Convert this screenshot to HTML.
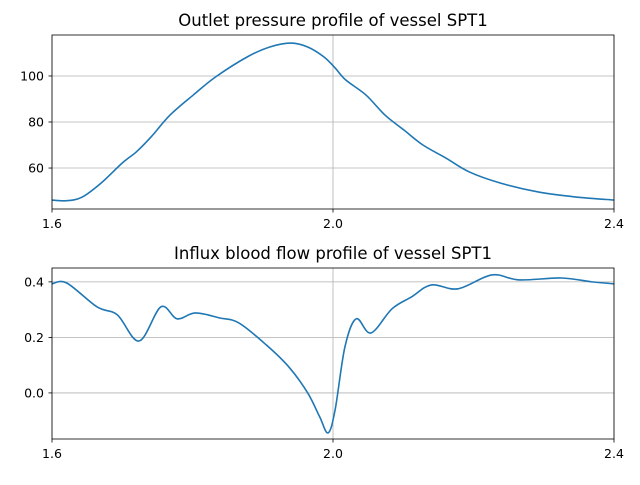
<!DOCTYPE html>
<html><head><meta charset="utf-8"><style>
body{margin:0;background:#fff}
svg text{font-family:"DejaVu Sans","Liberation Sans",sans-serif;fill:#000}
</style></head><body>
<svg id="c" width="640" height="480" xmlns="http://www.w3.org/2000/svg"></svg>
<script>
const topX=[1.6,1.621,1.643,1.670,1.700,1.720,1.741,1.768,1.801,1.833,1.878,1.910,1.940,1.964,1.987,2.003,2.018,2.047,2.074,2.101,2.128,2.161,2.194,2.238,2.292,2.346,2.4];
const topY=[46.1,45.8,47.4,53.5,62.2,67.0,73.5,83.0,91.7,99.6,108.3,112.6,114.3,112.6,108.3,103.5,98.3,91.7,83.0,76.5,70.0,64.3,58.3,53.5,49.6,47.4,46.1];
const botX=[1.6,1.621,1.664,1.693,1.724,1.755,1.778,1.804,1.839,1.866,1.905,1.937,1.964,1.981,1.993,2.003,2.017,2.033,2.054,2.084,2.112,2.140,2.178,2.226,2.265,2.325,2.369,2.4];
const botY=[0.393,0.396,0.310,0.281,0.187,0.310,0.267,0.288,0.270,0.252,0.173,0.094,0.0,-0.086,-0.144,-0.061,0.166,0.267,0.216,0.303,0.346,0.389,0.375,0.425,0.407,0.414,0.400,0.393];
const xTicks=[1.6,2.0,2.4];
const xTickLabels=["1.6","2.0","2.4"];
const topYTicks=[60,80,100];
const botYTicks=[0.0,0.2,0.4];
const botYTickLabels=["0.0","0.2","0.4"];
const titles=["Outlet pressure profile of vessel SPT1","Influx blood flow profile of vessel SPT1"];

const svg=document.getElementById('c');
const NS='http://www.w3.org/2000/svg';
function mk(t,a,p){const e=document.createElementNS(NS,t);for(const k in a)e.setAttribute(k,a[k]);(p||svg).appendChild(e);return e;}
function path(xs,ys){let d='';const n=xs.length;
 for(let i=0;i<n-1;i++){const p0=[xs[Math.max(i-1,0)],ys[Math.max(i-1,0)]],p1=[xs[i],ys[i]],p2=[xs[i+1],ys[i+1]],p3=[xs[Math.min(i+2,n-1)],ys[Math.min(i+2,n-1)]];
  if(i===0)d+='M'+p1[0]+','+p1[1];
  const c1=[p1[0]+(p2[0]-p0[0])/6,p1[1]+(p2[1]-p0[1])/6],c2=[p2[0]-(p3[0]-p1[0])/6,p2[1]-(p3[1]-p1[1])/6];
  d+=' C'+c1+' '+c2+' '+p2;}
 return d;}
function panel(name,L,T,R,B,ymin,ymax,xs,ys,yt,ytl,title){
 const X=v=>L+(v-1.6)/(2.4-1.6)*(R-L);
 const Y=v=>B-(v-ymin)/(ymax-ymin)*(B-T);
 const g=mk('g',{});
 
 
 xTicks.forEach((t,i)=>{
  const gl=mk('line',{x1:X(t),x2:X(t),y1:T,y2:B,stroke:'#b0b0b0','stroke-width':0.8},g);
  
  mk('line',{x1:X(t),x2:X(t),y1:B,y2:B+3.5,stroke:'#000','stroke-width':0.8},g);
  const tx=mk('text',{x:X(t),y:B+19,'font-size':12.5,'text-anchor':'middle'},g);tx.textContent=xTickLabels[i];
  
 });
 yt.forEach((t,i)=>{
  const gl=mk('line',{x1:L,x2:R,y1:Y(t),y2:Y(t),stroke:'#b0b0b0','stroke-width':0.8},g);
  
  mk('line',{x1:L-3.5,x2:L,y1:Y(t),y2:Y(t),stroke:'#000','stroke-width':0.8},g);
  const tx=mk('text',{x:L-8,y:Y(t)+4.5,'font-size':12.5,'text-anchor':'end'},g);tx.textContent=ytl[i];
  
 });
 const ln=mk('path',{d:path(xs.map(X),ys.map(Y)),fill:'none',stroke:'#1f77b4','stroke-width':1.6},g);
 
 const fr=mk('rect',{x:L,y:T,width:R-L,height:B-T,fill:'none',stroke:'#000','stroke-width':0.8},g);
 
 const tt=mk('text',{x:(L+R)/2,y:T-9,'font-size':16.5,'text-anchor':'middle'},g);tt.textContent=title;
 
}
panel('pressure-panel',52,35,614,209,42.2,117.8,topX,topY,topYTicks,topYTicks.map(String),titles[0]);
panel('flow-panel',52,268,614,439,-0.166,0.450,botX,botY,botYTicks,botYTickLabels,titles[1]);
</script>
</body></html>
